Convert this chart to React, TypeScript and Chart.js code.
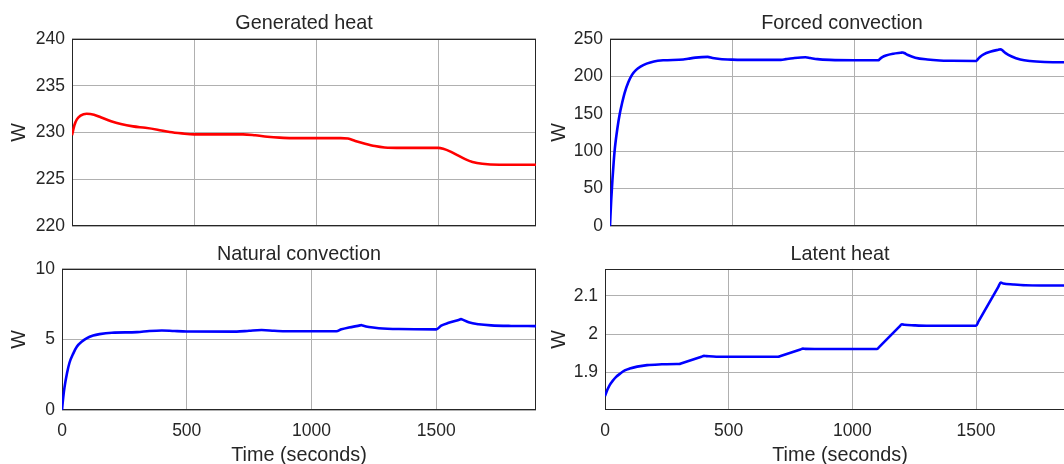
import React, { useEffect, useRef } from "react";
import { Chart, registerables } from "chart.js";

Chart.register(...registerables);

// ---- data ----
const xTicks = [0, 500, 1000, 1500];
const xMax = 1900;

const genTime = [0, 10, 20, 35, 60, 90, 120, 160, 200, 250, 300, 350, 400, 450, 500, 600, 700, 750, 800, 850, 900, 1000, 1100, 1130, 1160, 1200, 1240, 1280, 1350, 1500, 1520, 1550, 1580, 1610, 1640, 1680, 1750, 1900];
const genHeat = [229.7, 230.8, 231.4, 231.8, 232.0, 231.9, 231.6, 231.2, 230.9, 230.65, 230.5, 230.3, 230.05, 229.9, 229.8, 229.8, 229.8, 229.7, 229.55, 229.45, 229.4, 229.4, 229.4, 229.35, 229.1, 228.8, 228.55, 228.4, 228.35, 228.35, 228.25, 227.95, 227.55, 227.15, 226.85, 226.65, 226.55, 226.55];
const genTicks = [220, 225, 230, 235, 240];

const forcedTime = [0, 5, 10, 15, 20, 30, 40, 50, 60, 75, 90, 105, 125, 150, 180, 220, 300, 320, 350, 400, 420, 450, 500, 600, 700, 720, 750, 800, 820, 850, 900, 1000, 1100, 1105, 1115, 1130, 1160, 1190, 1200, 1205, 1220, 1250, 1300, 1350, 1400, 1500, 1505, 1515, 1530, 1560, 1590, 1600, 1605, 1620, 1645, 1680, 1720, 1780, 1900];
const forcedConv = [0, 35, 62, 85, 104, 130, 150, 165, 178, 192, 202, 208, 213, 217, 220, 221.5, 222.5, 223.5, 225, 226, 224.5, 223.2, 222.4, 222, 222, 223, 224.3, 225.5, 224.5, 223, 222, 221.5, 221.5, 223.2, 225.8, 228, 230.3, 231.6, 232, 231.2, 228.5, 225, 222.5, 221.2, 220.8, 220.5, 222.5, 226, 229.5, 233.2, 235.6, 236.3, 235.2, 231, 226.5, 222.5, 220.5, 219.3, 218.8];
const forcedTicks = [0, 50, 100, 150, 200, 250];

const natTime = [0, 5, 10, 20, 30, 45, 60, 80, 100, 125, 150, 200, 300, 350, 400, 450, 500, 700, 750, 800, 850, 900, 1100, 1120, 1150, 1195, 1200, 1205, 1230, 1270, 1350, 1500, 1520, 1550, 1595, 1600, 1605, 1630, 1670, 1720, 1800, 1900];
const natConv = [0, 0.9, 1.6, 2.6, 3.35, 4.0, 4.5, 4.85, 5.1, 5.28, 5.38, 5.48, 5.52, 5.6, 5.64, 5.6, 5.57, 5.56, 5.62, 5.67, 5.62, 5.58, 5.58, 5.72, 5.85, 6.0, 6.02, 5.99, 5.88, 5.8, 5.74, 5.72, 5.98, 6.18, 6.42, 6.45, 6.41, 6.22, 6.08, 6.0, 5.96, 5.95];
const natTicks = [0, 5, 10];

const latTime = [0, 10, 20, 30, 45, 60, 80, 100, 130, 170, 230, 290, 300, 310, 390, 400, 410, 450, 690, 700, 710, 790, 800, 810, 900, 1090, 1100, 1110, 1190, 1200, 1210, 1250, 1300, 1490, 1500, 1510, 1590, 1600, 1610, 1650, 1700, 1900];
const latentHeat = [1.838, 1.855, 1.868, 1.877, 1.888, 1.896, 1.905, 1.91, 1.915, 1.919, 1.921, 1.922, 1.922, 1.9241, 1.9409, 1.943, 1.9425, 1.941, 1.941, 1.941, 1.943, 1.96, 1.962, 1.9615, 1.961, 1.961, 1.961, 1.9675, 2.0195, 2.026, 2.0245, 2.023, 2.022, 2.022, 2.022, 2.0333, 2.1237, 2.135, 2.1325, 2.13, 2.128, 2.127];
const latTicks = [1.9, 2.0, 2.1];

const FONT = "'Liberation Sans', Arial, Helvetica, sans-serif";
const TEXT = "#262626";
const GRID = "#b0b0b0";

type Rect = { left: number; top: number; width: number; height: number };
type Area = { left: number; top: number; right: number; bottom: number };
type Panel = {
  title: string;
  time: number[];
  values: number[];
  color: string;
  yMin: number;
  yMax: number;
  yTicks: number[];
  box: Rect;
  area: Area;
  showX: boolean;
  titlePad: [number, number];
};

const panels: Panel[] = [
  {
    title: "Generated heat", time: genTime, values: genHeat, color: "#ff0000",
    yMin: 220, yMax: 240, yTicks: genTicks,
    box: { left: 0, top: 0, width: 545, height: 252 },
    area: { left: 72, top: 39, right: 536, bottom: 226 },
    showX: false, titlePad: [11.3, 3.9],
  },
  {
    title: "Forced convection", time: forcedTime, values: forcedConv, color: "#0000ff",
    yMin: 0, yMax: 250, yTicks: forcedTicks,
    box: { left: 540, top: 0, width: 540, height: 252 },
    area: { left: 610, top: 39, right: 1074, bottom: 226 },
    showX: false, titlePad: [11.3, 3.9],
  },
  {
    title: "Natural convection", time: natTime, values: natConv, color: "#0000ff",
    yMin: 0, yMax: 10, yTicks: natTicks,
    box: { left: 0, top: 235, width: 545, height: 233 },
    area: { left: 62, top: 269, right: 536, bottom: 410 },
    showX: true, titlePad: [7.4, 2.8],
  },
  {
    title: "Latent heat", time: latTime, values: latentHeat, color: "#0000ff",
    yMin: 1.8015, yMax: 2.1705, yTicks: latTicks,
    box: { left: 540, top: 235, width: 540, height: 233 },
    area: { left: 605, top: 269, right: 1075, bottom: 410 },
    showX: true, titlePad: [7.4, 2.8],
  },
];

const boxPlugin = {
  id: "axesBox",
  beforeDatasetsDraw(chart: any) {
    const { ctx, chartArea: a } = chart;
    ctx.save();
    ctx.strokeStyle = TEXT;
    ctx.lineWidth = 1;
    const l = Math.round(a.left) + 0.5;
    const t = Math.round(a.top) + 0.5;
    const r = Math.round(a.right) - 0.5;
    const b = Math.round(a.bottom) - 0.5;
    ctx.strokeRect(l, t, r - l, b - t);
    ctx.restore();
  },
};

function makeConfig(p: Panel): any {
  const yW = p.area.left - p.box.left;
  const xH = p.box.top + p.box.height - p.area.bottom;
  const padRight = p.box.left + p.box.width - p.area.right;
  const tickFont = { family: FONT, size: 17.5, lineHeight: 1.2 };
  const labelFont = { family: FONT, size: 19.8, lineHeight: 1.2, weight: "normal" as const };
  return {
    type: "line",
    data: {
      datasets: [
        {
          data: p.time.map((t, i) => ({ x: t, y: p.values[i] })),
          borderColor: p.color,
          borderWidth: 2.6,
          pointRadius: 0,
          fill: false,
          cubicInterpolationMode: "monotone",
        },
      ],
    },
    options: {
      animation: false,
      responsive: false,
      maintainAspectRatio: false,
      events: [],
      layout: { padding: { left: 0, top: 0, right: padRight, bottom: 0 } },
      plugins: {
        legend: { display: false },
        tooltip: { enabled: false },
        title: {
          display: true,
          text: p.title,
          fullSize: false,
          color: TEXT,
          font: labelFont,
          padding: { top: p.titlePad[0], bottom: p.titlePad[1] },
        },
      },
      scales: {
        x: {
          type: "linear",
          min: 0,
          max: xMax,
          afterBuildTicks: (s: any) => {
            s.ticks = xTicks.map((v) => ({ value: v }));
          },
          afterFit: (s: any) => {
            s.height = xH;
          },
          grid: { color: GRID, lineWidth: 1, drawTicks: false },
          border: { display: false },
          ticks: {
            display: p.showX,
            padding: 10.4,
            color: TEXT,
            font: tickFont,
            maxRotation: 0,
            autoSkip: false,
            callback: (v: number) => String(v),
          },
          title: {
            display: p.showX,
            text: "Time (seconds)",
            color: TEXT,
            font: labelFont,
            padding: { top: 0, bottom: 0.8 },
          },
        },
        y: {
          type: "linear",
          min: p.yMin,
          max: p.yMax,
          afterBuildTicks: (s: any) => {
            s.ticks = p.yTicks.map((v) => ({ value: v }));
          },
          afterFit: (s: any) => {
            s.width = yW;
          },
          grid: { color: GRID, lineWidth: 1, drawTicks: false },
          border: { display: false },
          ticks: {
            padding: 7,
            color: TEXT,
            font: tickFont,
            autoSkip: false,
            callback: (v: number) => String(Math.round(v * 10) / 10),
          },
          title: {
            display: true,
            text: "W",
            color: TEXT,
            font: labelFont,
            padding: { top: 7.6, bottom: 0 },
          },
        },
      },
    },
    plugins: [boxPlugin],
  };
}

export default function App() {
  const refs = useRef<(HTMLCanvasElement | null)[]>([]);

  useEffect(() => {
    const charts = panels.map((p, i) => new Chart(refs.current[i] as HTMLCanvasElement, makeConfig(p)));
    return () => charts.forEach((c) => c.destroy());
  }, []);

  return (
    <div
      style={{
        position: "fixed",
        left: 0,
        top: 0,
        width: 1064,
        height: 464,
        overflow: "hidden",
        background: "#ffffff",
      }}
    >
      {panels.map((p, i) => (
        <canvas
          key={i}
          ref={(el) => {
            refs.current[i] = el;
          }}
          width={p.box.width}
          height={p.box.height}
          style={{
            position: "absolute",
            left: p.box.left,
            top: p.box.top,
            width: p.box.width,
            height: p.box.height,
          }}
        />
      ))}
    </div>
  );
}
